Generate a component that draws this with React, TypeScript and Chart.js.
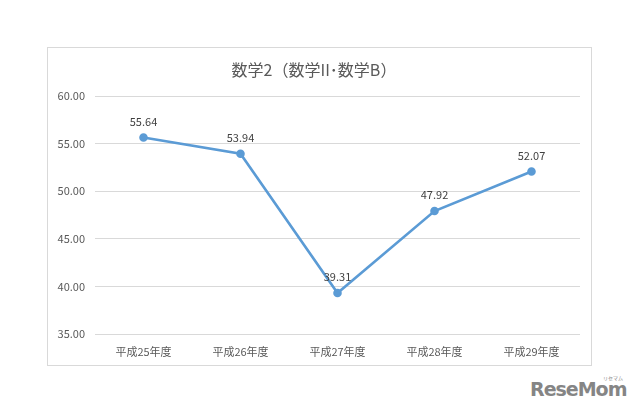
import React, { useEffect, useRef } from "react";
import { Chart, registerables } from "chart.js";

Chart.register(...registerables);

const titleText = "数学2（数学II･数学B）";
const categories = ["平成25年度", "平成26年度", "平成27年度", "平成28年度", "平成29年度"];
const scores = [55.64, 53.94, 39.31, 47.92, 52.07];
const yMin = 35;
const yMax = 60;
const yStep = 5;

const FONT = "'Noto Sans CJK JP', 'Noto Sans', sans-serif";

const dataLabelPlugin = {
  id: "dataLabels",
  afterDatasetsDraw(chart: any) {
    const ctx = chart.ctx;
    const meta = chart.getDatasetMeta(0);
    const ds = chart.data.datasets[0];
    ctx.save();
    ctx.font = `11px ${FONT}`;
    ctx.fillStyle = "#404040";
    ctx.textAlign = "center";
    ctx.textBaseline = "middle";
    meta.data.forEach((pt: any, i: number) => {
      ctx.fillText(Number(ds.data[i]).toFixed(2), pt.x, pt.y - 16);
    });
    ctx.restore();
  },
};

export default function App() {
  const ref = useRef<HTMLCanvasElement | null>(null);

  useEffect(() => {
    if (!ref.current) return;
    const chart = new Chart(ref.current, {
      type: "line",
      data: {
        labels: categories,
        datasets: [
          {
            data: scores,
            borderColor: "#5B9BD5",
            backgroundColor: "#5B9BD5",
            borderWidth: 2.6,
            pointRadius: 3,
            pointBackgroundColor: "#5B9BD5",
            pointBorderColor: "#5B9BD5",
            tension: 0,
          },
        ],
      },
      options: {
        animation: false,
        responsive: false,
        maintainAspectRatio: false,
        layout: { padding: { left: 0, right: 11, top: 0, bottom: 0 } },
        plugins: {
          legend: { display: false },
          tooltip: { enabled: false },
          title: {
            display: true,
            text: titleText,
            color: "#595959",
            font: { family: FONT, size: 16, weight: "normal" },
            padding: { top: 12.4, bottom: 16.4 },
          },
        },
        scales: {
          x: {
            offset: true,
            grid: { display: false, drawTicks: false },
            border: { display: false },
            ticks: {
              color: "#595959",
              font: { family: FONT, size: 11 },
              padding: 11,
              maxRotation: 0,
            },
            afterFit(scale: any) {
              scale.height = 31;
            },
          },
          y: {
            min: yMin,
            max: yMax,
            grid: { color: "#d9d9d9", drawTicks: false, lineWidth: 1 },
            border: { display: false },
            ticks: {
              stepSize: yStep,
              color: "#595959",
              font: { family: FONT, size: 11 },
              padding: 10,
              callback: (v: any) => Number(v).toFixed(2),
            },
            afterFit(scale: any) {
              scale.width = 47;
            },
          },
        },
      },
      plugins: [dataLabelPlugin],
    });
    return () => chart.destroy();
  }, []);

  return (
    <div
      style={{
        position: "absolute",
        left: 0,
        top: 0,
        width: 640,
        height: 414,
        background: "#ffffff",
        overflow: "hidden",
      }}
    >
      <div
        style={{
          position: "absolute",
          left: 47,
          top: 47,
          width: 545,
          height: 319,
          border: "1px solid #d9d9d9",
          boxSizing: "border-box",
          background: "#fff",
        }}
      >
        <canvas ref={ref} width={543} height={317} style={{ display: "block" }} />
      </div>
      <div
        style={{
          position: "absolute",
          left: 530,
          top: 378,
          fontFamily: "'DejaVu Sans', sans-serif",
          fontWeight: "bold",
          fontSize: 19,
          color: "#858585",
          letterSpacing: -1,
        }}
      >
        ReseMom
      </div>
      <div
        style={{
          position: "absolute",
          left: 603,
          top: 374,
          fontFamily: FONT,
          fontSize: 5,
          color: "#858585",
        }}
      >
        リセマム
      </div>
    </div>
  );
}
